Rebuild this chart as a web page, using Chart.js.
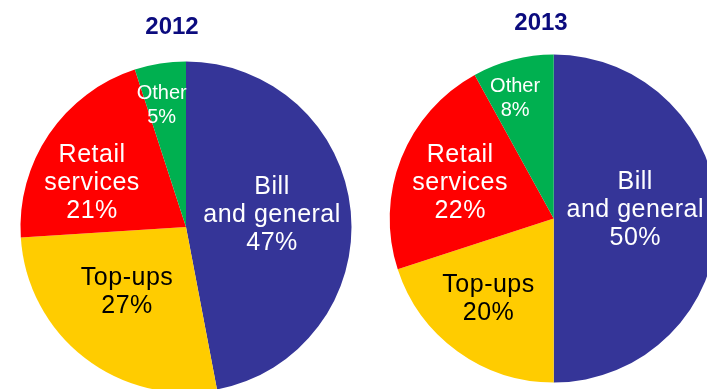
<!DOCTYPE html>
<html>
<head>
<meta charset="utf-8">
<script src="https://cdn.jsdelivr.net/npm/chart.js@4/dist/chart.umd.min.js"></script>
<style>
  html, body { margin: 0; padding: 0; width: 707px; height: 389px; overflow: hidden; background: #ffffff; }
  canvas { position: absolute; top: 0; }
  #pie2012 { left: 0px; }
  #pie2013 { left: 372px; }
</style>
</head>
<body>
<canvas id="pie2012" width="372" height="400"></canvas>
<canvas id="pie2013" width="360" height="400"></canvas>
<script>
// Contact reasons, share of total (%)
const categories = [["Bill", "and general"], ["Top-ups"], ["Retail", "services"], ["Other"]];
const years = ["2012", "2013"];
const values2012 = [47, 27, 21, 5];
const values2013 = [50, 20, 22, 8];

const sliceColors = ["#353598", "#FFCC00", "#FF0000", "#00B050"];
const labelColors = ["#ffffff", "#000000", "#ffffff", "#ffffff"];
const FONT = "'Liberation Sans', Arial, Helvetica, sans-serif";

// Draws the category name and percentage inside each slice, and the year heading.
const sliceLabels = {
  id: "sliceLabels",
  afterDatasetsDraw(chart, args, opts) {
    const ctx = chart.ctx;
    const meta = chart.getDatasetMeta(0);
    const data = chart.data.datasets[0].data;
    ctx.save();
    ctx.textAlign = "center";
    ctx.textBaseline = "middle";
    meta.data.forEach((arc, i) => {
      const p = arc.getProps(["x", "y", "startAngle", "endAngle", "outerRadius"], true);
      const place = opts.placement[i];
      const mid = (p.startAngle + p.endAngle) / 2 + place.turn * Math.PI / 180;
      const r = p.outerRadius * place.radius;
      const cx = p.x + Math.cos(mid) * r;
      const cy = p.y + Math.sin(mid) * r;
      const lines = chart.data.labels[i].concat([data[i] + "%"]);
      const size = place.small ? opts.smallSize : opts.size;
      const lh = place.small ? opts.smallLine : opts.line;
      ctx.font = size + "px " + FONT;
      ctx.letterSpacing = place.small ? "0px" : "0.5px";
      ctx.fillStyle = labelColors[i];
      const top = cy - (lines.length - 1) * lh / 2;
      lines.forEach((t, k) => ctx.fillText(t, cx, top + k * lh));
    });
    ctx.letterSpacing = "0px";
    ctx.font = "bold 24px " + FONT;
    ctx.fillStyle = "#0B0B7E";
    ctx.fillText(opts.title, opts.titleX, opts.titleY);
    ctx.restore();
  }
};

function makePie(id, values, title, padding, titlePos, placement) {
  return new Chart(document.getElementById(id), {
    type: "pie",
    data: {
      labels: categories,
      datasets: [{
        data: values,
        backgroundColor: sliceColors,
        borderWidth: 0,
        hoverOffset: 0
      }]
    },
    options: {
      responsive: false,
      animation: false,
      devicePixelRatio: 1,
      layout: { padding: padding },
      events: [],
      plugins: {
        legend: { display: false },
        tooltip: { enabled: false },
        title: { display: false },
        sliceLabels: {
          title: title,
          titleX: titlePos[0],
          titleY: titlePos[1],
          size: 25, line: 28,
          smallSize: 20, smallLine: 24,
          placement: placement
        }
      }
    },
    plugins: [sliceLabels]
  });
}

makePie("pie2012", values2012, years[0],
  { left: 20.5, right: 20.5, top: 61.5, bottom: 7.5 },
  [172, 27],
  [
    { radius: 0.525, turn: -2.6 },
    { radius: 0.53, turn: 4.4 },
    { radius: 0.627, turn: -9.1 },
    { radius: 0.75, turn: -2.3, small: true }
  ]);

makePie("pie2013", values2013, years[1],
  { left: 17.7, right: 14.3, top: 54.6, bottom: 17.4 },
  [169, 23],
  [
    { radius: 0.5, turn: -6 },
    { radius: 0.63, turn: 3.1 },
    { radius: 0.61, turn: -0.8 },
    { radius: 0.77, turn: -3.4, small: true }
  ]);
</script>
</body>
</html>
